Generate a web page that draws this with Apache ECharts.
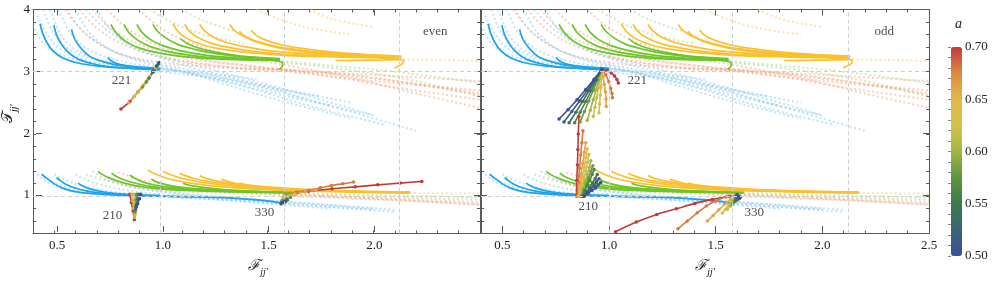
<!DOCTYPE html>
<html><head><meta charset="utf-8">
<script src="https://cdn.jsdelivr.net/npm/echarts@6/dist/echarts.min.js"></script>
<style>html,body{margin:0;padding:0;background:#fff}#c{width:997px;height:282px}</style>
</head><body><div id="c"></div>
<script>
// ---------- tick / grid values ----------
const xMajorTicks = [0.5, 1.0, 1.5, 2.0, 2.5];
const xLabelsLeft = [0.5, 1.0, 1.5, 2.0];
const xLabelsRight = [0.5, 1.0, 1.5, 2.0, 2.5];
const yMajorTicks = [1, 2, 3, 4];
const gridX = [1.0, 1.581, 2.121];
const gridY = [1, 3];
const cbLabels = [0.50, 0.55, 0.60, 0.65, 0.70];

// ---------- solid curves, upper band ----------
const upperBlue = [
 [[0.433,3.77],[0.445,3.62],[0.465,3.47],[0.495,3.33],[0.54,3.22],[0.61,3.14],[0.72,3.085],[0.87,3.05],[1.0,3.03]],
 [[0.498,3.75],[0.512,3.58],[0.542,3.40],[0.58,3.27],[0.62,3.19],[0.69,3.12],[0.76,3.08],[0.88,3.055],[1.0,3.04]],
 [[0.581,3.68],[0.595,3.53],[0.62,3.40],[0.65,3.29],[0.683,3.215],[0.74,3.15],[0.79,3.11],[0.9,3.07],[1.0,3.05]],
 [[0.752,3.23],[0.77,3.17],[0.81,3.115],[0.88,3.08],[1.0,3.055]]
];
const upperGreen = [
 [[0.766,3.76],[0.792,3.62],[0.839,3.48],[0.902,3.38],[0.995,3.30],[1.12,3.24],[1.26,3.205],[1.40,3.19],[1.52,3.18],[1.566,3.16],[1.573,3.11],[1.555,3.035]],
 [[0.827,3.76],[0.85,3.63],[0.895,3.50],[0.955,3.40],[1.04,3.32],[1.15,3.26],[1.28,3.215],[1.42,3.195],[1.56,3.185]],
 [[0.888,3.76],[0.91,3.64],[0.95,3.52],[1.01,3.42],[1.09,3.34],[1.2,3.27],[1.33,3.225],[1.46,3.2],[1.56,3.19]],
 [[0.963,3.76],[0.985,3.65],[1.025,3.54],[1.08,3.44],[1.16,3.36],[1.26,3.29],[1.38,3.24],[1.56,3.20]],
 [[1.094,3.53],[1.12,3.46],[1.17,3.39],[1.25,3.32],[1.36,3.26],[1.48,3.225],[1.56,3.21]]
];
const upperYellow = [
 [[1.058,3.77],[1.08,3.65],[1.12,3.54],[1.18,3.45],[1.27,3.37],[1.4,3.31],[1.6,3.26],[1.85,3.235],[2.05,3.22],[2.136,3.19],[2.141,3.16],[2.097,3.06]],
 [[1.113,3.76],[1.135,3.65],[1.175,3.55],[1.235,3.46],[1.32,3.39],[1.45,3.32],[1.65,3.27],[1.9,3.24],[2.13,3.225]],
 [[1.183,3.76],[1.205,3.66],[1.245,3.56],[1.31,3.47],[1.4,3.40],[1.53,3.33],[1.72,3.28],[1.95,3.245],[2.13,3.23]],
 [[1.324,3.76],[1.345,3.67],[1.385,3.58],[1.45,3.49],[1.54,3.41],[1.67,3.34],[1.85,3.29],[2.13,3.24]],
 [[1.37,3.65],[1.395,3.57],[1.44,3.49],[1.51,3.42],[1.61,3.35],[1.76,3.30],[1.95,3.26],[2.13,3.245]],
 [[1.425,3.67],[1.45,3.58],[1.5,3.50],[1.57,3.43],[1.67,3.37],[1.82,3.31],[2.0,3.27],[2.13,3.25]],
 [[1.605,3.38],[1.65,3.34],[1.73,3.30],[1.85,3.27],[2.0,3.25],[2.13,3.24]],
 [[1.82,3.18],[1.95,3.185],[2.05,3.19],[2.12,3.195]]
];
// ---------- solid curves, lower band ----------
const lowerBlue = [
 [[0.441,1.355],[0.452,1.32],[0.464,1.29],[0.495,1.21],[0.542,1.125],[0.62,1.06],[0.73,1.03],[0.855,1.01],[1.0,1.0]],
 [[0.511,1.30],[0.525,1.26],[0.55,1.20],[0.59,1.14],[0.65,1.085],[0.73,1.045],[0.85,1.02],[1.0,1.005]],
 [[0.612,1.21],[0.63,1.17],[0.66,1.125],[0.71,1.08],[0.78,1.045],[0.88,1.02],[1.0,1.008]],
 [[1.01,1.0],[1.15,0.99],[1.3,0.975],[1.42,0.95],[1.51,0.92],[1.567,0.89]]
];
const lowerGreen = [
 [[0.706,1.40],[0.725,1.35],[0.76,1.29],[0.81,1.23],[0.88,1.17],[0.97,1.125],[1.09,1.095],[1.25,1.075],[1.45,1.06],[1.63,1.05]],
 [[0.769,1.37],[0.79,1.32],[0.83,1.26],[0.89,1.20],[0.97,1.15],[1.07,1.115],[1.2,1.09],[1.4,1.07],[1.63,1.055]],
 [[0.855,1.34],[0.875,1.29],[0.915,1.23],[0.97,1.18],[1.05,1.14],[1.15,1.11],[1.3,1.085],[1.63,1.06]],
 [[0.956,1.275],[0.98,1.23],[1.02,1.19],[1.08,1.15],[1.16,1.12],[1.28,1.095],[1.45,1.075],[1.63,1.065]],
 [[1.105,1.21],[1.13,1.18],[1.18,1.15],[1.25,1.12],[1.35,1.095],[1.5,1.075],[1.63,1.07]]
];
const lowerYellow = [
 [[0.94,1.42],[0.96,1.38],[1.0,1.32],[1.06,1.26],[1.14,1.21],[1.25,1.16],[1.4,1.12],[1.6,1.09],[1.9,1.065],[2.17,1.05]],
 [[1.011,1.40],[1.035,1.36],[1.075,1.31],[1.135,1.26],[1.22,1.21],[1.33,1.165],[1.5,1.12],[1.75,1.085],[2.17,1.055]],
 [[1.089,1.37],[1.115,1.33],[1.16,1.28],[1.22,1.24],[1.3,1.20],[1.42,1.16],[1.6,1.115],[1.85,1.08],[2.17,1.06]],
 [[1.183,1.33],[1.21,1.29],[1.255,1.25],[1.32,1.21],[1.41,1.17],[1.54,1.13],[1.72,1.10],[1.95,1.075],[2.17,1.062]],
 [[1.285,1.27],[1.315,1.24],[1.36,1.20],[1.43,1.17],[1.53,1.14],[1.67,1.11],[1.85,1.085],[2.17,1.065]],
 [[1.37,1.21],[1.41,1.18],[1.47,1.15],[1.56,1.12],[1.7,1.095],[1.9,1.075],[2.17,1.068]]
];
// ---------- faint dashed curves ----------
const faintBlue = [
 [[0.45,4.0],[0.5,3.6],[0.6,3.3],[0.8,3.12],[1.0,3.05],[1.3,2.9],[1.6,2.7],[1.9,2.5]],
 [[0.52,4.0],[0.58,3.6],[0.68,3.32],[0.85,3.14],[1.0,3.07],[1.3,2.85],[1.6,2.6],[2.0,2.3]],
 [[0.6,4.0],[0.66,3.65],[0.76,3.36],[0.9,3.17],[1.05,3.06],[1.3,2.8],[1.6,2.5],[1.9,2.25]],
 [[0.42,3.9],[0.5,3.45],[0.62,3.22],[0.8,3.1],[1.0,3.0],[1.25,2.9],[1.5,2.75],[1.75,2.6]],
 [[0.7,4.0],[0.76,3.7],[0.86,3.42],[1.0,3.22],[1.15,3.06],[1.4,2.85],[1.7,2.55],[2.2,2.05]],
 [[0.48,4.0],[0.55,3.5],[0.66,3.25],[0.85,3.1],[1.1,3.0],[1.4,2.75],[1.7,2.45],[2.05,2.15]],
 [[0.4,3.75],[0.45,3.45],[0.53,3.27],[0.66,3.15],[0.85,3.08],[1.0,3.04],[1.2,2.98],[1.45,2.88]],
 [[0.56,4.0],[0.62,3.7],[0.71,3.45],[0.84,3.25],[1.0,3.12],[1.2,2.98],[1.5,2.72],[1.8,2.45]],
 [[0.65,4.0],[0.72,3.75],[0.82,3.5],[0.95,3.3],[1.1,3.15],[1.3,2.98],[1.6,2.7],[2.0,2.3]],
 [[0.45,1.3],[0.55,1.15],[0.7,1.05],[0.9,1.01],[1.1,0.98],[1.4,0.92],[1.7,0.85],[2.0,0.78]],
 [[0.5,1.35],[0.6,1.2],[0.75,1.08],[0.95,1.02],[1.2,0.96],[1.5,0.88],[1.8,0.8]],
 [[0.6,1.35],[0.7,1.2],[0.85,1.09],[1.0,1.03],[1.25,0.98],[1.55,0.9],[1.9,0.8],[2.1,0.75]],
 [[0.75,1.3],[0.85,1.17],[1.0,1.08],[1.2,1.0],[1.5,0.93],[1.8,0.86],[2.1,0.78]],
 [[0.42,1.35],[0.48,1.2],[0.58,1.08],[0.75,1.02],[1.0,0.99],[1.3,0.95],[1.6,0.88]],
 [[0.68,1.4],[0.76,1.25],[0.9,1.12],[1.1,1.04],[1.4,0.96],[1.7,0.88],[2.0,0.8]]
];
const faintOrange = [
 [[0.62,4.0],[0.7,3.7],[0.85,3.4],[1.05,3.2],[1.3,3.08],[1.6,3.02],[2.0,2.95],[2.5,2.85]],
 [[0.75,4.0],[0.84,3.7],[1.0,3.4],[1.2,3.2],[1.45,3.08],[1.75,2.95],[2.1,2.75],[2.5,2.55]],
 [[0.9,4.0],[1.0,3.7],[1.15,3.45],[1.35,3.25],[1.6,3.1],[1.9,2.9],[2.2,2.65],[2.5,2.42]],
 [[0.55,4.0],[0.65,3.6],[0.8,3.3],[1.0,3.15],[1.3,3.06],[1.6,3.0],[2.0,2.85],[2.5,2.7]],
 [[1.0,3.25],[1.3,3.08],[1.6,3.03],[1.9,2.95],[2.2,2.8],[2.5,2.62]],
 [[0.68,4.0],[0.77,3.68],[0.93,3.4],[1.12,3.22],[1.4,3.1],[1.7,3.0],[2.1,2.85],[2.5,2.65]],
 [[0.65,1.35],[0.8,1.2],[1.0,1.1],[1.3,1.05],[1.6,1.02],[2.0,0.97],[2.5,0.9]],
 [[0.8,1.38],[0.95,1.23],[1.15,1.12],[1.4,1.06],[1.7,1.01],[2.1,0.94],[2.5,0.86]],
 [[1.6,1.0],[1.9,0.96],[2.2,0.92],[2.5,0.87]]
];
const faintGreen = [
 [[1.57,3.17],[1.8,3.1],[2.1,3.0],[2.5,2.82]],
 [[1.57,3.15],[1.9,3.02],[2.2,2.85],[2.5,2.6]],
 [[0.95,4.0],[1.05,3.8],[1.2,3.6],[1.4,3.45]],
 [[1.1,4.0],[1.2,3.82],[1.35,3.65]],
 [[1.63,1.05],[2.0,1.02],[2.5,0.98]],
 [[1.63,1.04],[2.0,0.99],[2.5,0.94]]
];
const faintYellow = [
 [[2.14,3.2],[2.3,3.19],[2.5,3.17]],
 [[1.45,4.0],[1.55,3.85],[1.7,3.7],[1.9,3.6]],
 [[1.7,4.0],[1.8,3.85],[2.0,3.72]],
 [[2.17,1.05],[2.5,1.04]]
];
// ---------- coloured trajectories (a, points) ----------
const even221 = [
 {a:0.70, p:[[0.97,3.04],[0.933,2.84],[0.894,2.68],[0.855,2.52],[0.813,2.40]]},
 {a:0.66, p:[[0.975,3.06],[0.94,2.88],[0.91,2.74],[0.875,2.6],[0.85,2.5]]},
 {a:0.62, p:[[0.98,3.08],[0.95,2.93],[0.92,2.79],[0.894,2.68],[0.875,2.60]]},
 {a:0.58, p:[[0.985,3.10],[0.964,3.0],[0.933,2.84],[0.915,2.76]]},
 {a:0.54, p:[[0.99,3.13],[0.964,3.0],[0.945,2.90]]},
 {a:0.50, p:[[0.992,3.15],[0.98,3.09],[0.964,3.0]]}
];
const even210 = [
 {a:0.70, p:[[0.855,1.03],[0.862,0.90],[0.87,0.76],[0.876,0.62]]},
 {a:0.66, p:[[0.865,1.03],[0.868,0.92],[0.873,0.80],[0.877,0.66]]},
 {a:0.62, p:[[0.875,1.03],[0.876,0.93],[0.878,0.82],[0.879,0.70]]},
 {a:0.58, p:[[0.886,1.03],[0.884,0.94],[0.882,0.84],[0.88,0.74]]},
 {a:0.54, p:[[0.896,1.03],[0.892,0.95],[0.886,0.86],[0.882,0.78]]},
 {a:0.50, p:[[0.906,1.03],[0.90,0.96],[0.892,0.88],[0.885,0.82]]}
];
const even330 = [
 {a:0.70, p:[[1.585,1.016],[1.636,1.053],[1.695,1.081],[1.805,1.118],[1.914,1.15],[2.019,1.182],[2.125,1.21],[2.227,1.237]]},
 {a:0.68, p:[[1.585,1.027],[1.642,1.065],[1.695,1.097],[1.75,1.134],[1.802,1.172],[1.855,1.198],[1.906,1.226]]},
 {a:0.66, p:[[1.58,1.0],[1.63,1.04],[1.68,1.07],[1.73,1.10]]},
 {a:0.62, p:[[1.575,0.97],[1.6,1.0],[1.63,1.03]]},
 {a:0.58, p:[[1.57,0.93],[1.59,0.96],[1.61,0.98]]},
 {a:0.54, p:[[1.567,0.90],[1.58,0.92],[1.595,0.94]]},
 {a:0.50, p:[[1.565,0.88],[1.575,0.895],[1.585,0.91]]}
];
const odd221 = [
 {a:0.70, p:[[0.968,3.045],[0.99,3.02],[1.01,2.98],[1.026,2.93],[1.037,2.875],[1.044,2.82]]},
 {a:0.68, p:[[0.968,3.04],[0.985,2.95],[0.999,2.84],[1.008,2.73],[1.014,2.65],[1.016,2.58]]},
 {a:0.66, p:[[0.966,3.04],[0.972,2.92],[0.978,2.80],[0.983,2.68],[0.986,2.56],[0.987,2.44]]},
 {a:0.64, p:[[0.966,3.04],[0.964,2.90],[0.962,2.76],[0.959,2.62],[0.956,2.48],[0.953,2.34]]},
 {a:0.62, p:[[0.966,3.04],[0.958,2.89],[0.95,2.74],[0.942,2.58],[0.934,2.43],[0.926,2.28]]},
 {a:0.60, p:[[0.966,3.04],[0.953,2.88],[0.94,2.71],[0.926,2.55],[0.912,2.38],[0.898,2.22]]},
 {a:0.58, p:[[0.966,3.04],[0.946,2.87],[0.926,2.70],[0.905,2.53],[0.885,2.36],[0.864,2.19]]},
 {a:0.56, p:[[0.966,3.04],[0.942,2.87],[0.917,2.70],[0.891,2.52],[0.865,2.35],[0.839,2.18]]},
 {a:0.54, p:[[0.966,3.04],[0.937,2.87],[0.907,2.70],[0.876,2.52],[0.845,2.35],[0.813,2.18]]},
 {a:0.52, p:[[0.966,3.04],[0.933,2.87],[0.898,2.70],[0.862,2.53],[0.826,2.36],[0.789,2.19]]},
 {a:0.50, p:[[0.966,3.04],[0.93,2.88],[0.89,2.71],[0.85,2.55],[0.808,2.39],[0.766,2.24]]}
];
const odd210 = [
 {a:0.70, p:[[0.847,1.0],[0.849,1.25],[0.852,1.5],[0.854,1.75],[0.856,2.0],[0.859,2.28]]},
 {a:0.68, p:[[0.852,1.0],[0.856,1.22],[0.862,1.45],[0.867,1.66],[0.873,1.86],[0.878,2.05]]},
 {a:0.66, p:[[0.856,1.0],[0.862,1.18],[0.869,1.36],[0.877,1.53],[0.884,1.70],[0.891,1.86]]},
 {a:0.64, p:[[0.86,1.0],[0.868,1.16],[0.876,1.32],[0.884,1.47],[0.891,1.62],[0.898,1.76]]},
 {a:0.62, p:[[0.864,1.0],[0.873,1.14],[0.882,1.28],[0.891,1.41],[0.899,1.54],[0.906,1.67]]},
 {a:0.60, p:[[0.868,1.0],[0.878,1.12],[0.889,1.24],[0.898,1.35],[0.907,1.46],[0.915,1.57]]},
 {a:0.58, p:[[0.871,1.0],[0.883,1.10],[0.895,1.20],[0.905,1.30],[0.915,1.40],[0.924,1.49]]},
 {a:0.56, p:[[0.874,1.0],[0.887,1.09],[0.899,1.18],[0.91,1.26],[0.921,1.35],[0.93,1.43]]},
 {a:0.54, p:[[0.877,1.0],[0.894,1.07],[0.909,1.14],[0.923,1.21],[0.935,1.28],[0.945,1.35]]},
 {a:0.52, p:[[0.88,1.0],[0.898,1.06],[0.915,1.12],[0.93,1.17],[0.942,1.23],[0.953,1.28]]},
 {a:0.50, p:[[0.884,1.0],[0.903,1.05],[0.92,1.09],[0.936,1.13],[0.949,1.18],[0.961,1.22]]}
];
const odd330 = [
 {a:0.70, p:[[1.031,0.43],[1.128,0.584],[1.224,0.707],[1.316,0.797],[1.403,0.884],[1.484,0.948],[1.563,1.0],[1.60,1.02]]},
 {a:0.68, p:[[1.323,0.476],[1.367,0.60],[1.414,0.733],[1.456,0.841],[1.50,0.921],[1.547,0.986],[1.60,1.02]]},
 {a:0.66, p:[[1.461,0.60],[1.488,0.69],[1.515,0.78],[1.542,0.87],[1.57,0.95],[1.60,1.02]]},
 {a:0.64, p:[[1.531,0.73],[1.546,0.79],[1.561,0.86],[1.577,0.92],[1.59,0.97],[1.60,1.02]]},
 {a:0.62, p:[[1.555,0.79],[1.566,0.85],[1.577,0.90],[1.588,0.96],[1.60,1.02]]},
 {a:0.60, p:[[1.57,0.84],[1.578,0.89],[1.586,0.93],[1.594,0.97],[1.60,1.02]]},
 {a:0.58, p:[[1.58,0.88],[1.587,0.92],[1.593,0.96],[1.60,1.02]]},
 {a:0.56, p:[[1.59,0.91],[1.594,0.95],[1.598,0.98],[1.60,1.02]]},
 {a:0.54, p:[[1.60,0.94],[1.602,0.97],[1.60,1.02]]},
 {a:0.52, p:[[1.61,0.96],[1.607,0.99],[1.60,1.02]]},
 {a:0.50, p:[[1.615,0.98],[1.61,1.0],[1.60,1.02]]}
];
// ---------- annotations ----------
const evenLabels = [['221',0.816,2.855],['210',0.774,0.685],['330',1.488,0.733],['even',2.29,3.64]];
const oddLabels  = [['221',1.133,2.855],['210',0.903,0.84],['330',1.681,0.733],['odd',2.29,3.64]];

// ---------- styling ----------
const SERIF = "'Liberation Serif','DejaVu Serif',serif";
const axisColor = '#5a5a5a';
const cmap = ['#3c4e9a','#3b6476','#3f7a4e','#5d9440','#a4b447','#d4c24d','#e4b84c','#da8a40','#c03a3c'];
const aMin = 0.5, aMax = 0.7;
function colorOf(a){ return echarts.color.lerp((a - aMin) / (aMax - aMin), cmap); }

const panels = [{x:0, y:0}, {x:4, y:4}];
const series = [];

panels.forEach(pa => {
  series.push({type:'line', xAxisIndex:pa.x, yAxisIndex:pa.y, data:[], silent:true,
    markLine:{symbol:'none', silent:true, animation:false, label:{show:false},
      lineStyle:{type:[4,3], color:'#cfcfcf', width:1},
      data: gridX.map(v => ({xAxis:v})).concat(gridY.map(v => ({yAxis:v})))}});
});

function addCurves(pa, curves, style){
  curves.forEach(c => series.push({type:'line', xAxisIndex:pa.x, yAxisIndex:pa.y, data:c,
    smooth:0.35, showSymbol:false, silent:true, lineStyle:style}));
}
function addTraj(pa, list){
  list.forEach(t => {
    const col = colorOf(t.a);
    series.push({type:'line', xAxisIndex:pa.x, yAxisIndex:pa.y, data:t.p, smooth:0.2,
      showSymbol:true, symbol:'circle', symbolSize:3.5, silent:true,
      itemStyle:{color:col}, lineStyle:{color:col, width:1.6}});
  });
}
function addLabels(pa, list){
  series.push({type:'scatter', xAxisIndex:pa.x, yAxisIndex:pa.y, symbolSize:0, silent:true,
    data: list.map(l => ({value:[l[1], l[2]], name:l[0]})),
    label:{show:true, position:'inside', formatter:p => p.name, color:'#222', fontSize:13, fontFamily:SERIF}});
}

const faintStyle = c => ({color:c, width:2, type:[2,2.5]});
panels.forEach((pa, i) => {
  addCurves(pa, faintBlue,   faintStyle('rgba(120,195,240,0.45)'));
  addCurves(pa, faintOrange, faintStyle('rgba(245,150,110,0.45)'));
  addCurves(pa, faintGreen,  faintStyle('rgba(165,215,125,0.5)'));
  addCurves(pa, faintYellow, faintStyle('rgba(250,205,100,0.55)'));
  addCurves(pa, upperBlue.concat(lowerBlue),   {color:'#1ca3ec', width:1.7});
  addCurves(pa, upperGreen.concat(lowerGreen), {color:'#6cc627', width:1.7});
  addCurves(pa, upperYellow.concat(lowerYellow), {color:'#fbc12d', width:1.7});
  if (i === 0) { addTraj(pa, even221); addTraj(pa, even210); addTraj(pa, even330); addLabels(pa, evenLabels); }
  else { addTraj(pa, odd221); addTraj(pa, odd210); addTraj(pa, odd330); addLabels(pa, oddLabels); }
});
const cbSeriesIndex = series.length;
series.push({type:'scatter', xAxisIndex:8, yAxisIndex:8, data:[], silent:true});

// ---------- axes ----------
const labelFont = {color:'#222', fontSize:13, fontFamily:SERIF};
function xMinor(gi, pos){ return {type:'value', gridIndex:gi, position:pos, min:0.4, max:2.5, interval:0.1,
  axisLine:{show:true, onZero:false, lineStyle:{color:axisColor}},
  axisTick:{show:true, inside:true, length:3, lineStyle:{color:axisColor}},
  axisLabel:{show:false}, splitLine:{show:false}}; }
function xMajor(gi, pos, labels, name){ const o = {type:'value', gridIndex:gi, position:pos, min:0.4, max:2.5,
  axisLine:{show:false, onZero:false},
  axisTick:{show:true, inside:true, length:6, customValues:xMajorTicks, lineStyle:{color:axisColor}},
  axisLabel: labels ? Object.assign({show:true, customValues:labels, margin:7, formatter:v => v.toFixed(1)}, labelFont) : {show:false},
  splitLine:{show:false}};
  if (name) { o.name = '{c|ℱ}{s|jj′}'; o.nameLocation = 'middle'; o.nameGap = 27;
    o.nameTextStyle = {rich:{c:{fontSize:15, fontFamily:"'DejaVu Serif',serif", fontStyle:'italic', color:'#222', verticalAlign:'top'},
                              s:{fontSize:10, fontFamily:SERIF, fontStyle:'italic', color:'#222', verticalAlign:'top', padding:[8,0,0,0]}}}; }
  return o; }
function yMinor(gi, pos){ return {type:'value', gridIndex:gi, position:pos, min:0.4, max:4, interval:0.2,
  axisLine:{show:true, onZero:false, lineStyle:{color:axisColor}},
  axisTick:{show:true, inside:true, length:3, lineStyle:{color:axisColor}},
  axisLabel:{show:false}, splitLine:{show:false}}; }
function yMajor(gi, pos, labels, name){ const o = {type:'value', gridIndex:gi, position:pos, min:0.4, max:4,
  axisLine:{show:false, onZero:false},
  axisTick:{show:true, inside:true, length:6, customValues:yMajorTicks, lineStyle:{color:axisColor}},
  axisLabel: labels ? Object.assign({show:true, customValues:yMajorTicks, margin:6, formatter:v => String(Math.round(v))}, labelFont) : {show:false},
  splitLine:{show:false}};
  if (name) { o.name = '{c|𝒯}{s|jj′}'; o.nameLocation = 'middle'; o.nameGap = 17;
    o.nameTextStyle = {padding:[0,0,0,14], rich:{c:{fontSize:15, fontFamily:"'DejaVu Serif','DejaVu Sans',serif", color:'#222', verticalAlign:'top'},
                              s:{fontSize:10, fontFamily:SERIF, fontStyle:'italic', color:'#222', verticalAlign:'top', padding:[8,0,0,0]}}}; }
  return o; }

const gL = {left:33, top:9.5, width:447, height:224};
const gR = {left:481, top:9.5, width:448, height:224};
const option = {
  animation:false,
  backgroundColor:'#fff',
  grid:[gL, gL, gR, gR, {left:951, top:47, width:11, height:209}],
  xAxis:[
    xMinor(0,'bottom'), xMinor(0,'top'), xMajor(1,'bottom', xLabelsLeft, true), xMajor(1,'top', null),
    xMinor(2,'bottom'), xMinor(2,'top'), xMajor(3,'bottom', xLabelsRight, true), xMajor(3,'top', null),
    {type:'value', gridIndex:4, show:false, min:0, max:1}
  ],
  yAxis:[
    yMinor(0,'left'), yMinor(0,'right'), yMajor(1,'left', true, true), yMajor(1,'right', false),
    yMinor(2,'left'), yMinor(2,'right'), yMajor(3,'left', false), yMajor(3,'right', false),
    {type:'value', gridIndex:4, position:'right', min:aMin, max:aMax, interval:0.01,
     axisLine:{show:false}, splitLine:{show:false},
     axisTick:{show:true, inside:true, length:3, lineStyle:{color:'#888'}},
     axisLabel:Object.assign({show:true, customValues:cbLabels, margin:3, formatter:v => v.toFixed(2)}, labelFont),
     name:'a', nameLocation:'end', nameGap:16,
     nameTextStyle:{fontFamily:SERIF, fontStyle:'italic', fontSize:14, color:'#222', align:'center', padding:[0,0,0,15]}}
  ],
  visualMap:[{type:'continuous', min:aMin, max:aMax, seriesIndex:cbSeriesIndex, dimension:1,
    inRange:{color:cmap}, left:951, top:47, itemWidth:11, itemHeight:209, padding:0,
    calculable:false, showLabel:false, text:null, orient:'vertical'}],
  series: series
};
const chart = echarts.init(document.getElementById('c'), null, {renderer:'canvas'});
chart.setOption(option);
</script></body></html>
